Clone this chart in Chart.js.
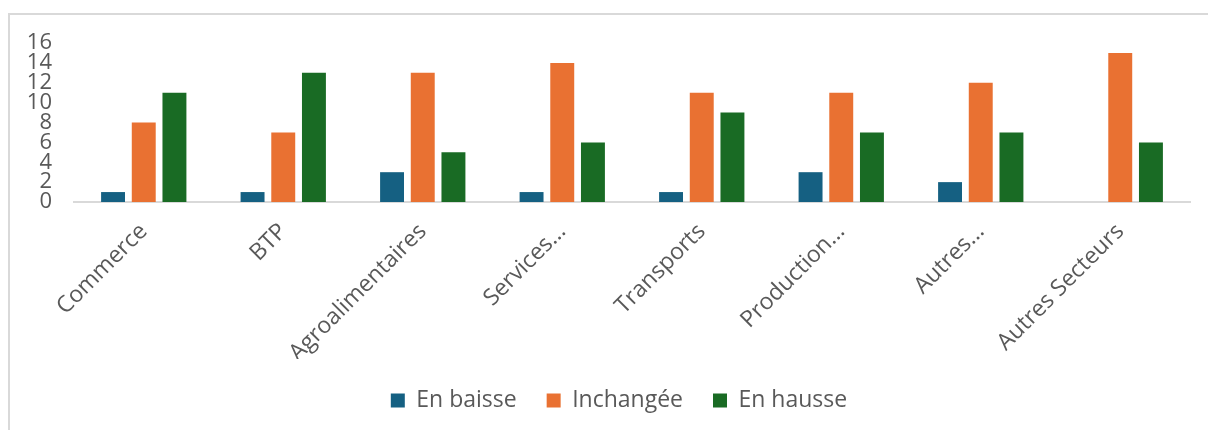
<!DOCTYPE html>
<html><head><meta charset="utf-8">
<script src="https://cdn.jsdelivr.net/npm/chart.js@4.4.1/dist/chart.umd.min.js"></script>
<style>
html,body{margin:0;padding:0;background:#fff;overflow:hidden;}
#wrap{position:relative;width:1208px;height:430px;}
#frame{position:absolute;left:8px;top:13px;width:1300px;height:600px;border:2px solid #d9d9d9;box-sizing:border-box;}
canvas{position:absolute;left:0;top:0;}
</style></head>
<body><div id="wrap"><div id="frame"></div><canvas id="c" width="1208" height="430"></canvas></div>
<script>
const categories = ["Commerce","BTP","Agroalimentaires","Services...","Transports","Production...","Autres...","Autres Secteurs"];
const seriesNames = ["En baisse","Inchangée","En hausse"];
const enBaisse = [1,1,3,1,1,3,2,0];
const inchangee = [8,7,13,14,11,11,12,15];
const enHausse = [11,13,5,6,9,7,7,6];
const yTicks = [0,2,4,6,8,10,12,14,16];
const colors = ["#156082","#E97132","#196B24"];
const FONT = "'Open Sans', sans-serif";
const txt = "#595959";

const legendShift = {
  id: 'legendShift',
  afterLayout(chart) {
    const lg = chart.legend;
    if (lg) { lg.left += 24; lg.right += 24; }
  }
};

new Chart(document.getElementById('c'), {
  type: 'bar',
  data: {
    labels: categories,
    datasets: [
      {label: seriesNames[0], data: enBaisse, backgroundColor: colors[0]},
      {label: seriesNames[1], data: inchangee, backgroundColor: colors[1]},
      {label: seriesNames[2], data: enHausse, backgroundColor: colors[2]}
    ]
  },
  plugins: [legendShift],
  options: {
    responsive: false,
    animation: false,
    devicePixelRatio: 1,
    categoryPercentage: 0.66,
    barPercentage: 0.78,
    layout: {padding: {top: 43, left: 0, right: 18, bottom: 8}},
    plugins: {
      tooltip: {enabled: false},
      legend: {
        position: 'bottom',
        labels: {boxWidth: 14, boxHeight: 14, padding: 30, color: txt, font: {family: FONT, size: 23}}
      }
    },
    scales: {
      y: {
        min: 0, max: 16,
        afterBuildTicks: s => { s.ticks = yTicks.map(v => ({value: v})); },
        afterFit: s => { s.width = 74; },
        grid: {display: false, drawTicks: false},
        border: {display: false},
        ticks: {color: txt, padding: 22, autoSkip: false, font: {family: FONT, size: 22}}
      },
      x: {
        afterFit: s => { s.height = 157; },
        grid: {display: false, drawTicks: false},
        border: {display: true, color: "#d9d9d9", width: 2},
        ticks: {color: txt, minRotation: 45, maxRotation: 45, autoSkip: false, padding: 16, font: {family: FONT, size: 23}}
      }
    }
  }
});
</script></body></html>
